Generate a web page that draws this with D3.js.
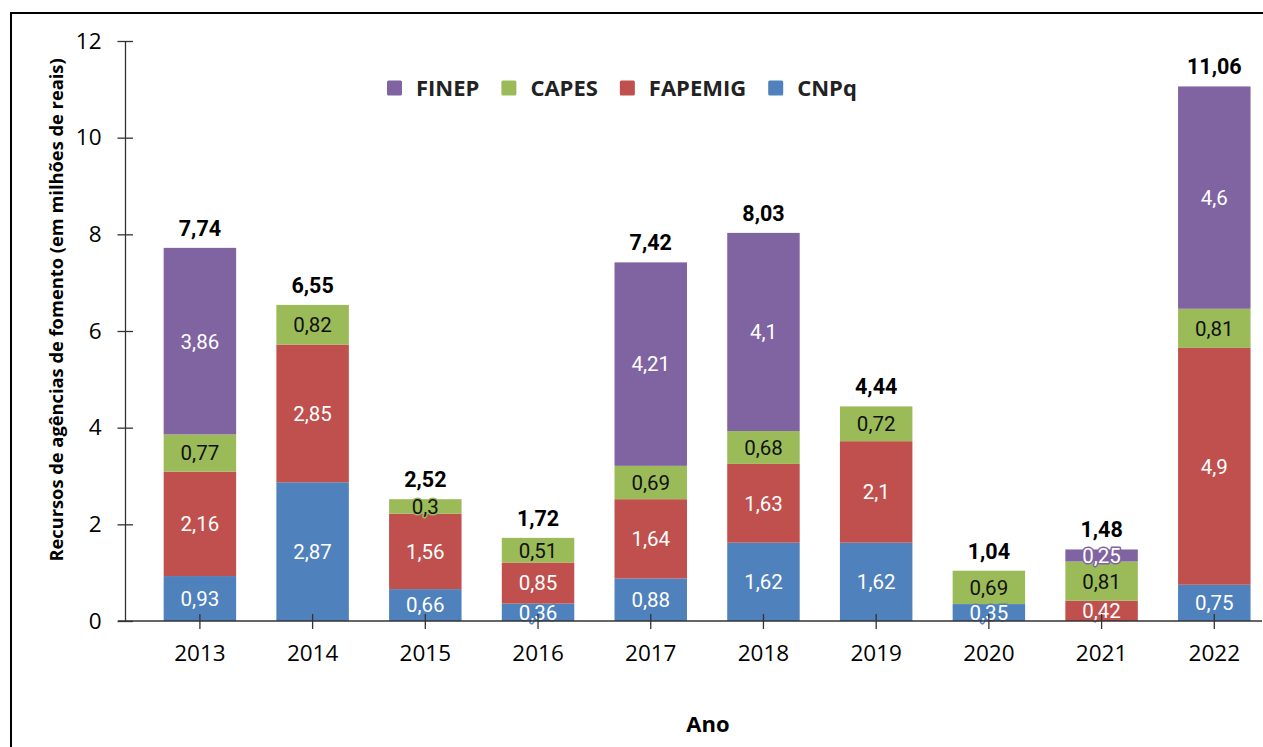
<!DOCTYPE html>
<html>
<head>
<meta charset="utf-8">
<script src="https://cdn.jsdelivr.net/npm/d3@7"></script>
<style>
  html, body { margin: 0; padding: 0; background: #fff; }
  svg { display: block; }
</style>
</head>
<body>
<svg id="chart" width="1263" height="747"></svg>
<script>
const years = ["2013","2014","2015","2016","2017","2018","2019","2020","2021","2022"];
const seriesNames = ["CNPq","FAPEMIG","CAPES","FINEP"];
const cnpq    = [0.93, 2.87, 0.66, 0.36, 0.88, 1.62, 1.62, 0.35, 0,    0.75];
const fapemig = [2.16, 2.85, 1.56, 0.85, 1.64, 1.63, 2.1,  0,    0.42, 4.9];
const capes   = [0.77, 0.82, 0.3,  0.51, 0.69, 0.68, 0.72, 0.69, 0.81, 0.81];
const finep   = [3.86, 0,    0,    0,    4.21, 4.1,  0,    0,    0.25, 4.6];
const totals  = [7.74, 6.55, 2.52, 1.72, 7.42, 8.03, 4.44, 1.04, 1.48, 11.06];
const yTicks  = [0, 2, 4, 6, 8, 10, 12];
const legendOrder = ["FINEP","CAPES","FAPEMIG","CNPq"];

const colors = { CNPq: "#4F81BD", FAPEMIG: "#C0504D", CAPES: "#9BBB59", FINEP: "#8064A2" };
const labelColors = { CNPq: "#fff", FAPEMIG: "#fff", CAPES: "#111", FINEP: "#fff" };

const seriesValues = { CNPq: cnpq, FAPEMIG: fapemig, CAPES: capes, FINEP: finep };
const rows = years.map((y, i) => {
  const r = { year: y };
  seriesNames.forEach(s => r[s] = seriesValues[s][i]);
  return r;
});

const svg = d3.select("#chart");
const tickFont = "'Open Sans', sans-serif";
const labelFont = "Roboto, sans-serif";

// frame
svg.append("rect").attr("x", 11).attr("y", 13).attr("width", 1270).attr("height", 760)
  .attr("fill", "none").attr("stroke", "#000").attr("stroke-width", 2);

const x = d3.scaleBand().domain(years).range([143.6, 1270.6]).paddingInner(0.357).paddingOuter(0.178);
const y = d3.scaleLinear().domain([0, 12]).range([621, 41]);

const stack = d3.stack().keys(seriesNames);
const stacked = stack(rows);

// bars
const g = svg.append("g");
stacked.forEach(layer => {
  const key = layer.key;
  g.selectAll(null).data(layer.filter(d => d[1] - d[0] > 0)).join("rect")
    .attr("x", d => x(d.data.year))
    .attr("width", x.bandwidth())
    .attr("y", d => y(d[1]))
    .attr("height", d => y(d[0]) - y(d[1]))
    .attr("fill", colors[key]);
});

// axes
const yAxis = svg.append("g").attr("transform", "translate(125,0)")
  .call(d3.axisLeft(y).tickValues(yTicks).tickSize(7.5).tickPadding(16).tickSizeOuter(0));
yAxis.select(".domain").attr("stroke", "#333").attr("stroke-width", 1.3);
yAxis.selectAll(".tick line").attr("x1", 8).attr("stroke", "#333").attr("stroke-width", 1.3);
yAxis.selectAll(".tick text").attr("font-family", tickFont).attr("font-size", 22.5).attr("fill", "#000");

const xAxis = svg.append("g").attr("transform", "translate(0,621)")
  .call(d3.axisBottom(x).tickSize(8).tickPadding(16).tickSizeOuter(0));
xAxis.select(".domain").remove();
xAxis.append("line").attr("x1", 118).attr("x2", 1262).attr("y1", 0).attr("y2", 0)
  .attr("stroke", "#333").attr("stroke-width", 1.3);
xAxis.selectAll(".tick line").attr("y1", -7).attr("stroke", "#333").attr("stroke-width", 1.3);
xAxis.selectAll(".tick text").attr("font-family", tickFont).attr("font-size", 22.5).attr("fill", "#000");

// segment labels
const fmt = v => String(v).replace(".", ",");
stacked.forEach(layer => {
  const key = layer.key;
  g.selectAll(null).data(layer.filter(d => d[1] - d[0] > 0)).join("text")
    .attr("x", d => x(d.data.year) + x.bandwidth() / 2)
    .attr("y", d => (y(d[0]) + y(d[1])) / 2)
    .attr("dy", "0.36em")
    .attr("text-anchor", "middle")
    .attr("font-family", labelFont)
    .attr("font-size", 20.5)
    .attr("fill", labelColors[key])
    .attr("stroke", colors[key])
    .attr("stroke-width", 3)
    .attr("stroke-linejoin", "round")
    .attr("paint-order", "stroke")
    .text(d => fmt(d.data[key]));
});

// totals
const sums = rows.map(r => seriesNames.reduce((a, s) => a + r[s], 0));
svg.append("g").selectAll("text").data(years).join("text")
  .attr("x", d => x(d) + x.bandwidth() / 2)
  .attr("y", (d, i) => y(sums[i]) - 12)
  .attr("text-anchor", "middle")
  .attr("font-family", labelFont)
  .attr("font-weight", "bold")
  .attr("font-size", 21.5)
  .attr("fill", "#000")
  .text((d, i) => totals[i].toFixed(2).replace(".", ","));

// legend
const leg = svg.append("g");
let lx = 387;
legendOrder.forEach(name => {
  leg.append("rect").attr("x", lx).attr("y", 80.5).attr("width", 15).attr("height", 15)
    .attr("rx", 1.5).attr("fill", colors[name]);
  const t = leg.append("text").attr("x", lx + 29).attr("y", 88).attr("dy", "0.36em")
    .attr("font-family", tickFont).attr("font-weight", "bold").attr("font-size", 22)
    .attr("fill", "#222").text(name);
  lx = lx + 29 + t.node().getComputedTextLength() + 22;
});

// axis titles
svg.append("text").attr("transform", "translate(63,310) rotate(-90)")
  .attr("text-anchor", "middle").attr("font-family", tickFont).attr("font-weight", "bold")
  .attr("font-size", 18.3).attr("fill", "#000")
  .text("Recursos de agências de fomento (em milhões de reais)");

svg.append("text").attr("x", 708).attr("y", 732).attr("text-anchor", "middle")
  .attr("font-family", tickFont).attr("font-weight", "bold").attr("font-size", 22)
  .attr("fill", "#000").text("Ano");
</script>
</body>
</html>
